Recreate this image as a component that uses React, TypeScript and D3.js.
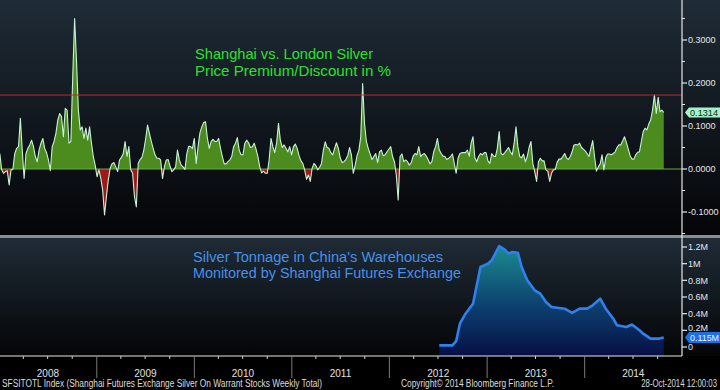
import React from 'react';
import * as d3 from 'd3';

// ---- Data ----
const premiumStart = '2008-01-04'; // weekly series, Fridays
const premium2008 = [0.036,-0.002,-0.010,-0.006,-0.004,-0.037,-0.002,-0.001,0.036,0.048,0.052,0.118,0.044,-0.022,0.036,0.048,0.056,0.067,0.052,0.029,0.017,0.044,0.060,0.071,0.048,0.038,0.021,-0.004,0.052,0.064,0.083,0.114,0.129,0.122,0.075,0.141,0.137,0.060,0.064,0.215,0.350,0.253,0.137,0.091,0.098,0.071,0.095,0.067,0.098,0.060,0.029,0.009];
const premium2009 = [-0.018,-0.002,-0.022,-0.049,-0.107,-0.064,-0.026,0.002,0.012,0.015,0.005,-0.006,0.021,0.027,0.036,0.064,0.029,0.052,-0.002,-0.010,-0.064,-0.088,0.013,0.022,0.027,0.044,0.071,0.102,0.083,0.064,0.048,0.033,0.025,0.025,0.021,-0.022,0.005,0.021,0.022,0.007,-0.006,-0.002,0.005,0.044,0.021,0.009,0.005,-0.001,0.036,0.053,0.052,0.048];
const premium2010 = [0.071,0.013,0.052,0.084,0.098,0.108,0.110,0.071,0.048,0.064,0.069,0.064,0.064,0.071,0.048,0.029,0.012,0.012,0.017,0.021,0.029,0.052,0.060,0.073,0.044,0.033,0.033,0.060,0.067,0.061,0.050,0.052,0.060,0.046,0.029,0.005,-0.009,-0.005,-0.010,-0.010,0.021,0.071,0.052,0.038,0.060,0.106,0.067,0.050,0.056,0.048,0.040,0.052,0.033];
const premium2011 = [0.052,0.058,0.048,0.031,0.019,0.013,-0.002,-0.024,-0.014,-0.029,0.002,0.013,0.008,-0.002,0.004,0.013,0.044,0.063,0.050,0.048,0.038,0.033,0.048,0.061,0.048,0.026,0.015,0.017,0.022,0.031,0.050,0.033,-0.010,0.009,0.031,0.044,0.075,0.199,0.106,0.064,0.048,0.035,0.022,0.029,0.036,0.015,0.040,0.044,0.031,0.033,0.040,0.046];
const premium2012 = [0.052,0.029,0.017,-0.014,-0.072,0.029,0.035,0.017,0.021,0.017,0.009,0.015,0.030,0.036,0.033,0.052,0.029,0.034,0.036,0.030,0.022,0.012,0.017,0.040,0.052,0.071,0.044,0.036,0.030,0.029,0.022,0.025,0.029,0.035,0.013,-0.010,0.025,0.036,0.038,0.038,0.038,0.044,0.030,0.060,0.075,0.026,0.017,0.029,0.036,0.033,0.038,0.038];
const premium2013 = [0.019,0.013,0.036,0.030,0.029,0.048,0.087,0.036,0.033,0.038,0.044,0.050,0.040,0.033,0.060,0.098,0.052,0.029,0.026,0.035,0.017,0.029,0.050,0.064,0.013,-0.006,-0.029,0.017,0.025,0.019,0.019,-0.002,-0.005,-0.029,-0.010,-0.002,-0.001,0.016,0.023,0.023,0.029,0.036,0.026,0.022,0.029,0.040,0.056,0.057,0.056,0.060,0.050,0.046];
const premium2014 = [0.042,0.036,0.029,0.048,0.066,0.029,-0.005,0.005,0.012,0.033,-0.002,0.027,0.035,0.035,0.033,0.036,0.040,0.050,0.056,0.056,0.065,0.075,0.062,0.047,0.031,0.023,0.023,0.033,0.039,0.040,0.064,0.087,0.095,0.091,0.105,0.114,0.137,0.172,0.129,0.167,0.133,0.137,0.1314];

const stockDates = ['2012-07-06','2012-08-24','2012-09-07','2012-09-21','2012-10-12','2012-11-09','2012-12-07','2013-01-04','2013-01-18','2013-02-15','2013-03-08','2013-03-22','2013-04-05','2013-04-26','2013-05-10','2013-05-31','2013-06-28','2013-07-19','2013-08-09','2013-08-30','2013-10-18','2013-11-15','2013-12-13','2014-01-10','2014-01-31','2014-02-28','2014-03-21','2014-04-18','2014-05-02','2014-06-06','2014-06-27','2014-07-25','2014-08-08','2014-09-05','2014-10-03','2014-10-24'];
const stockValues = [0.02,0.02,0.07,0.28,0.40,0.52,0.96,1.00,1.04,1.21,1.17,1.12,1.14,1.13,0.96,0.80,0.68,0.64,0.54,0.48,0.46,0.41,0.46,0.46,0.50,0.58,0.46,0.34,0.26,0.24,0.27,0.20,0.16,0.10,0.10,0.115];

const premiumTicks = [0.3, 0.2, 0.1, 0, -0.1];
const premiumMinorTicks = [0.35, 0.25, 0.15, 0.05, -0.05, -0.15];
const stockTicks = [1.2, 1, 0.8, 0.6, 0.4, 0.2, 0];
const stockTickLabels = ['1.2M', '1M', '0.8M', '0.6M', '0.4M', '0.2M', '0'];
const yearLabels = ['2008', '2009', '2010', '2011', '2012', '2013', '2014'];
const thresholdValue = 0.172;
const premiumLastLabel = '0.1314';
const stockLastLabel = '0.115M';

const topTitle = ['Shanghai vs. London Silver', 'Price Premium/Discount in %'];
const bottomTitle = ["Silver Tonnage in China's Warehouses", 'Monitored by Shanghai Futures Exchange'];
const footerLeft = 'SFSITOTL Index (Shanghai Futures Exchange Silver On Warrant Stocks Weekly Total)';
const footerMid = 'Copyright\u00A9 2014 Bloomberg Finance L.P.';
const footerRight = '28-Oct-2014 12:00:03';

type Pt = { date: Date; v: number };

export default function App() {
  const W = 720, H = 390;
  const plotR = 682;
  const topY0 = 0, topY1 = 235;
  const botY0 = 238, botY1 = 356;
  const font = "'Liberation Sans', Arial, sans-serif";

  const parse = d3.timeParse('%Y-%m-%d');
  const start = parse(premiumStart)!;
  const premiumValues = [...premium2008, ...premium2009, ...premium2010, ...premium2011, ...premium2012, ...premium2013, ...premium2014];
  const premium: Pt[] = premiumValues.map((v, i) => ({ date: d3.timeDay.offset(start, 7 * i), v }));
  const stock: Pt[] = stockDates.map((d, i) => ({ date: parse(d)!, v: stockValues[i] }));

  const x = d3.scaleTime().domain([new Date(2008, 0, 1), new Date(2015, 0, 1)]).range([-1, 682.2]);
  const yTop = d3.scaleLinear().domain([0, 0.1]).range([169, 126]);
  const yBot = d3.scaleLinear().domain([0, 1.2]).range([347, 247]);

  const areaTop = d3.area<Pt>().x(d => x(d.date)).y0(yTop(0)).y1(d => yTop(d.v));
  const lineTop = d3.line<Pt>().x(d => x(d.date)).y(d => yTop(d.v));
  const areaBot = d3.area<Pt>().x(d => x(d.date)).y0(botY1).y1(d => yBot(d.v));
  const lineBot = d3.line<Pt>().x(d => x(d.date)).y(d => yBot(d.v));

  const quarterTicks = x.ticks(d3.timeMonth.every(3)!).filter(d => d.getMonth() !== 0);
  const yearStarts = d3.range(2009, 2015).map(y => new Date(y, 0, 1));

  const lastP = premium[premium.length - 1];
  const lastS = stock[stock.length - 1];
  const tagP = yTop(lastP.v);
  const tagS = yBot(lastS.v);

  return (
    <svg width={W} height={H} style={{ position: 'absolute', left: 0, top: 0, display: 'block', background: '#000' }}>
      <defs>
        <linearGradient id="panelBg" x1="0" y1="0" x2="0" y2="1">
          <stop offset="0%" stopColor="#1f2b36" />
          <stop offset="100%" stopColor="#040507" />
        </linearGradient>
        <linearGradient id="stockFill" gradientUnits="userSpaceOnUse" x1="0" y1={yBot(1.2)} x2="0" y2={botY1}>
          <stop offset="0%" stopColor="#1b8a8e" />
          <stop offset="55%" stopColor="#0d3f6e" />
          <stop offset="100%" stopColor="#060f45" />
        </linearGradient>
        <clipPath id="posClip"><rect x={0} y={topY0} width={plotR} height={yTop(0) - topY0} /></clipPath>
        <clipPath id="negClip"><rect x={0} y={yTop(0)} width={plotR} height={topY1 - yTop(0)} /></clipPath>
      </defs>

      <rect x={0} y={0} width={W} height={H} fill="#000" />
      <rect x={0} y={topY0} width={W} height={topY1 - topY0} fill="url(#panelBg)" />
      <rect x={0} y={botY0} width={W} height={botY1 - botY0} fill="url(#panelBg)" />
      <rect x={0} y={topY1} width={W} height={botY0 - topY1} fill="#8c8c8c" />

      {/* top panel */}
      <path d={areaTop(premium)!} fill="#4c8c1f" clipPath="url(#posClip)" />
      <path d={areaTop(premium)!} fill="#9e1a1a" clipPath="url(#negClip)" />
      <line x1={0} x2={plotR} y1={yTop(0)} y2={yTop(0)} stroke="#6aa83a" strokeWidth={1} />
      <path d={lineTop(premium)!} fill="none" stroke="#c8f2d8" strokeWidth={1.1} strokeLinejoin="round" />
      <line x1={0} x2={plotR} y1={yTop(thresholdValue)} y2={yTop(thresholdValue)} stroke="#c4292b" strokeWidth={1} />
      {topTitle.map((t, i) => (
        <text key={t} x={195} y={59 + i * 17} fill="#2ee02e" fontFamily={font} fontSize={15}
          textLength={i === 0 ? 178 : 196} lengthAdjust="spacingAndGlyphs">{t}</text>
      ))}

      {/* bottom panel */}
      <path d={areaBot(stock)!} fill="url(#stockFill)" />
      <path d={lineBot(stock)!} fill="none" stroke="#2f80f0" strokeWidth={2.6} strokeLinejoin="round" />
      {bottomTitle.map((t, i) => (
        <text key={t} x={193} y={262 + i * 16} fill="#4690ec" fontFamily={font} fontSize={14}
          textLength={i === 0 ? 250 : 268} lengthAdjust="spacingAndGlyphs">{t}</text>
      ))}

      {/* right axes */}
      <line x1={plotR} x2={plotR} y1={0} y2={botY1} stroke="#e6e6e6" strokeWidth={1.2} />
      {premiumTicks.map(t => (
        <g key={'pt' + t}>
          <line x1={plotR} x2={plotR + 5} y1={yTop(t)} y2={yTop(t)} stroke="#e6e6e6" strokeWidth={1.2} />
          <text x={plotR + 6} y={yTop(t) + 3.2} fill="#e6e6e6" fontFamily={font} fontSize={9}>{t < 0 ? '-' : ''}{d3.format('.4f')(Math.abs(t))}</text>
        </g>
      ))}
      {premiumMinorTicks.map(t => (
        <line key={'pm' + t} x1={plotR} x2={plotR + 3} y1={yTop(t)} y2={yTop(t)} stroke="#e6e6e6" strokeWidth={1} />
      ))}
      {stockTicks.map((t, i) => (
        <g key={'st' + t}>
          <line x1={plotR} x2={plotR + 5} y1={yBot(t)} y2={yBot(t)} stroke="#e6e6e6" strokeWidth={1.2} />
          {t !== 0.2 && (
            <text x={plotR + 6} y={yBot(t) + 3.2} fill="#e6e6e6" fontFamily={font} fontSize={9}>{stockTickLabels[i]}</text>
          )}
        </g>
      ))}
      {/* 0.2M label is partly hidden behind the last-value tag, as in the reference */}
      <text x={plotR + 6} y={yBot(0.2) + 1} fill="#e6e6e6" fontFamily={font} fontSize={9}>{stockTickLabels[5]}</text>

      {/* last value tags */}
      <path d={`M${plotR + 3},${tagP} L${plotR + 7},${tagP - 5} L${W},${tagP - 5} L${W},${tagP + 5} L${plotR + 7},${tagP + 5} Z`} fill="#a6f2c8" />
      <text x={plotR + 8} y={tagP + 3.3} fill="#0b2e1a" fontFamily={font} fontSize={9} textLength={28} lengthAdjust="spacingAndGlyphs">{premiumLastLabel}</text>
      <path d={`M${plotR + 3},${tagS} L${plotR + 7},${tagS - 5.5} L${W},${tagS - 5.5} L${W},${tagS + 5.5} L${plotR + 7},${tagS + 5.5} Z`} fill="#1c6fe6" />
      <text x={plotR + 8} y={tagS + 3.3} fill="#eef4ff" fontFamily={font} fontSize={8.5} textLength={29} lengthAdjust="spacingAndGlyphs">{stockLastLabel}</text>

      {/* x axis */}
      <line x1={0} x2={plotR} y1={botY1} y2={botY1} stroke="#e6e6e6" strokeWidth={1.2} />
      {quarterTicks.map(d => (
        <line key={'q' + d.getTime()} x1={x(d)} x2={x(d)} y1={botY1} y2={botY1 + 3} stroke="#cfcfcf" strokeWidth={1} />
      ))}
      {yearStarts.map(d => (
        <line key={'y' + d.getTime()} x1={x(d)} x2={x(d)} y1={botY1} y2={378} stroke="#7a7a7a" strokeWidth={1} />
      ))}
      {yearLabels.map(y => (
        <text key={y} x={x(new Date(+y, 6, 2))} y={377} fill="#e0e0e0" fontFamily={font} fontSize={10} textAnchor="middle">{y}</text>
      ))}

      {/* footer */}
      <text x={2} y={387} fill="#dcdcdc" fontFamily={font} fontSize={10} textLength={320} lengthAdjust="spacingAndGlyphs">{footerLeft}</text>
      <text x={401} y={387} fill="#dcdcdc" fontFamily={font} fontSize={10} textLength={153} lengthAdjust="spacingAndGlyphs">{footerMid}</text>
      <text transform="translate(717,387) scale(0.78,1)" fill="#dcdcdc" fontFamily={font} fontSize={10} textAnchor="end">{footerRight}</text>
    </svg>
  );
}
